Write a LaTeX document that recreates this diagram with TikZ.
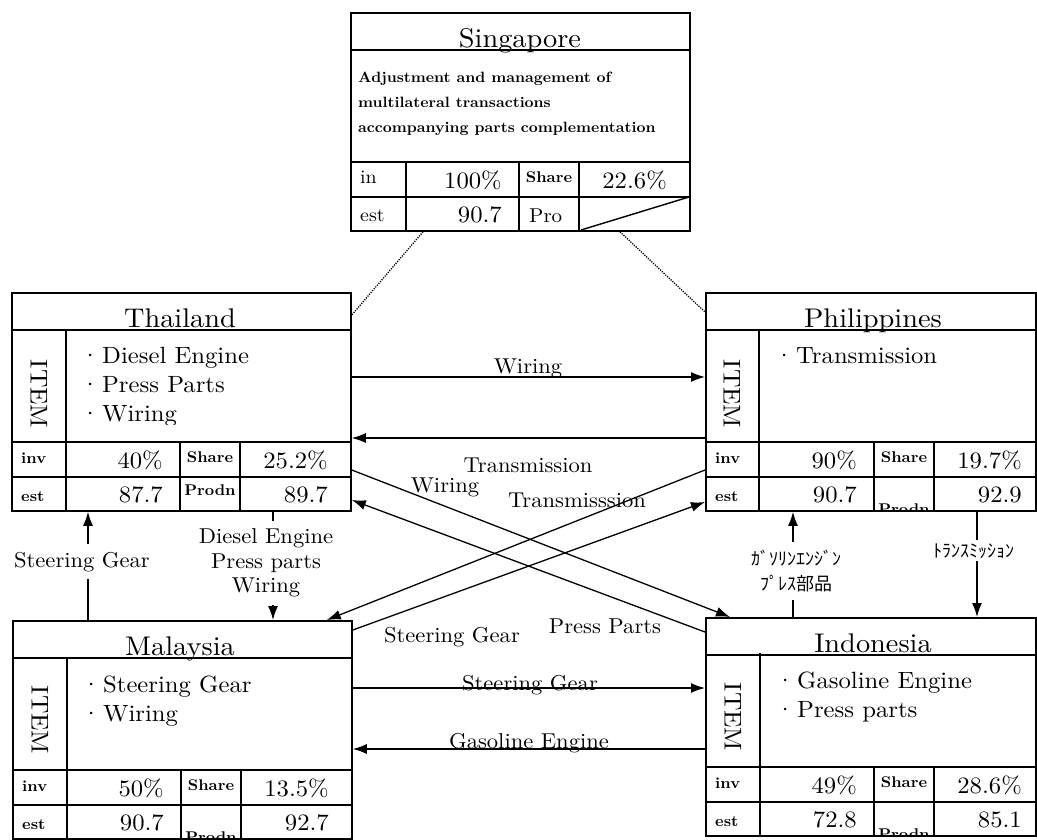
\documentclass[tikz,border=0pt]{standalone}
\usepackage{fontspec}
\setmainfont{lmroman10}[Extension=.otf, UprightFont=*-regular, BoldFont=*-bold, ItalicFont=*-italic, BoldItalicFont=*-bolditalic, FakeStretch=1.05]
\newfontfamily\jpfont{Noto Sans CJK JP}
\usetikzlibrary{arrows.meta,calc}
\tikzset{
 outerbox/.style={draw, line width=1.8pt, rectangle, inner sep=0pt, anchor=north west, minimum height=218pt},
 gridline/.style={line width=1.4pt},
 conn/.style={line width=1.3pt, -{Latex[length=14pt,width=10pt]}},
 dotconn/.style={line width=1.3pt, dash pattern=on 1.2pt off 1.2pt},
 titletext/.style={font=\fontsize{27}{31}\selectfont, anchor=base, inner sep=0pt},
 itemtext/.style={font=\fontsize{23.5}{27}\selectfont, anchor=base west, inner sep=0pt},
 valtext/.style={font=\fontsize{23.5}{26}\selectfont, anchor=base east, inner sep=0pt},
 smalltext/.style={font=\bfseries\fontsize{15.5}{18}\selectfont, inner sep=0pt},
 tablabel/.style={smalltext},
 desctext/.style={font=\bfseries\fontsize{14.9}{25}\selectfont, anchor=base west, inner sep=0pt},
 labtext/.style={font=\fontsize{21.5}{24.5}\selectfont, inner sep=0pt, anchor=base},
 jlabtext/.style={font=\jpfont\fontsize{18}{25}\selectfont, inner sep=0pt},
 itemlabel/.style={font=\fontsize{24.3}{28}\selectfont, rotate=-90, inner sep=0pt},
 whitebg/.style={fill=white, inner xsep=2pt, inner ysep=8pt},
}
% name, x0, y0, width
\newcommand\gridbox[4]{%
  \node[outerbox, minimum width=#4pt] (#1) at (#2,#3) {};
  \draw[gridline] (#2,#3+38) -- ++(#4,0);
  \draw[gridline] (#2,#3+150) -- ++(#4,0);
  \draw[gridline] (#2,#3+185) -- ++(#4,0);
  \draw[gridline] (#2+169,#3+150) -- ++(0,68);
  \draw[gridline] (#2+229,#3+150) -- ++(0,68);
}
% name, x0, y0, label1, v1, v2, v3, v4
\newcommand\tabvals[8]{%
  \node[tablabel, anchor=base west] (#1-l1) at (#2+10,#3+171) {#4};
  \node[valtext] (#1-v1) at (#2+152,#3+176) {#5};
  \node[smalltext, anchor=base] (#1-sh) at (#2+199,#3+170) {Share};
  \node[valtext] (#1-v2) at (#2+317,#3+176) {#6};
  \node[tablabel, anchor=base west] (#1-l2) at (#2+10,#3+209) {est};
  \node[valtext] (#1-v3) at (#2+152,#3+210) {#7};
  \node[valtext] (#1-v4) at (#2+317,#3+210) {#8};
}
% clipped Prodn at the bottom of the cell: name, x0, y0
\newcommand\lowprodn[3]{%
  \begin{scope}
    \clip (#2+169,#3+185) rectangle (#2+229,#3+217);
    \node[smalltext, anchor=base] (#1-pr) at (#2+199,#3+222) {Prodn};
  \end{scope}
}
\newcommand\bul{\makebox[12pt]{·}\hspace{6pt}}
\begin{document}
\begin{tikzpicture}[x=1pt,y=-1pt]
\useasboundingbox[fill=white] (0,0) rectangle (1037,839);

% ---------------- boxes
\gridbox{SG}{350}{12}{339}
\gridbox{TH}{11}{292}{339}
\gridbox{PH}{705}{292}{330}
\gridbox{MA}{12}{620}{339}
\gridbox{ID}{705}{617}{330}

% ITEM columns and Singapore extra lines
\draw[gridline] (66,330) -- (66,510);
\draw[gridline] (759,330) -- (759,510);
\draw[gridline] (67,658) -- (67,838);
\draw[gridline] (760,653) -- (760,835);
\draw[gridline] (406,162) -- (406,230);
\draw[gridline] (581,230) -- (689,197);

% titles
\node[titletext] (SG-t) at (520,47) {Singapore};
\node[titletext] (TH-t) at (180,327) {Thailand};
\node[titletext] (PH-t) at (873,327) {Philippines};
\node[titletext] (MA-t) at (180,655) {Malaysia};
\node[titletext] (ID-t) at (873,652) {Indonesia};

% Singapore description
\node[desctext] (SG-d1) at (358,82) {Adjustment and management of};
\node[desctext] (SG-d2) at (358,107) {multilateral transactions};
\node[desctext] (SG-d3) at (358,132) {accompanying parts complementation};

% ITEM labels
\node[itemlabel] (TH-i) at (39,394) {ITEM};
\node[itemlabel] (PH-i) at (732,394) {ITEM};
\node[itemlabel] (MA-i) at (40,720) {ITEM};
\node[itemlabel] (ID-i) at (733,717) {ITEM};

% items
\node[itemtext] (TH-a) at (84,363) {\bul Diesel Engine};
\node[itemtext] (TH-b) at (84,392) {\bul Press Parts};
\begin{scope}
  \clip (67,400) rectangle (349,424);
  \node[itemtext] (TH-c) at (84,421) {\bul Wiring};
\end{scope}
\node[itemtext] (PH-a) at (778,363) {\bul Transmission};
\node[itemtext] (MA-a) at (85,692) {\bul Steering Gear};
\node[itemtext] (MA-b) at (85,721) {\bul Wiring};
\node[itemtext] (ID-a) at (779,688) {\bul Gasoline Engine};
\node[itemtext] (ID-b) at (779,717) {\bul Press parts};

% tables
\begin{scope}[tablabel/.style={font=\fontsize{19}{22}\selectfont, inner sep=0pt}]
\tabvals{SG}{350}{12}{in}{100\%}{22.6\%}{90.7}{}
\end{scope}
\node[font=\fontsize{20}{24}\selectfont, anchor=base west, inner sep=0pt] (SG-pr) at (529,222) {Pro};
\tabvals{TH}{11}{292}{inv}{40\%}{25.2\%}{87.7}{89.7}
\node[smalltext, anchor=base] (TH-pr) at (210,495) {Prodn};
\tabvals{PH}{705}{292}{inv}{90\%}{19.7\%}{90.7}{92.9}
\lowprodn{PH}{705}{292}
\tabvals{MA}{12}{620}{inv}{50\%}{13.5\%}{90.7}{92.7}
\lowprodn{MA}{12}{620}
\tabvals{ID}{705}{617}{inv}{49\%}{28.6\%}{72.8}{85.1}
\lowprodn{ID}{705}{617}

% ---------------- dotted links to Singapore
\draw[dotconn] ([xshift=73pt]SG.south west) -- ([yshift=-23pt]TH.north east);
\draw[dotconn] ([xshift=270pt]SG.south west) -- ([yshift=-20pt]PH.north west);

% ---------------- connectors
\draw[conn] ([yshift=-85pt]TH.north east) -- ([yshift=-85pt]PH.north west);
\draw[conn] ([yshift=-146pt]PH.north west) -- ([yshift=-146pt]TH.north east);
\draw[conn] ([yshift=-178pt]TH.north east) -- ([xshift=25pt]ID.north west);
\draw[conn] ([yshift=-15pt]ID.north west) -- ([yshift=-208pt]TH.north east);
\draw[conn] ([yshift=-178pt]PH.north west) -- ([xshift=-26pt]MA.north east);
\draw[conn] ([yshift=-10pt]MA.north east) -- ([yshift=-210pt]PH.north west);
\draw[conn] ([yshift=-68pt]MA.north east) -- ([yshift=-71pt]ID.north west);
\draw[conn] ([yshift=-132pt]ID.north west) -- ([yshift=-129pt]MA.north east);
\draw[conn] ([xshift=76pt]MA.north west) -- ([xshift=77pt]TH.south west);
\draw[conn] ([xshift=262pt]TH.south west) -- ([xshift=261pt]MA.north west);
\draw[conn] ([xshift=88pt]ID.north west) -- ([xshift=88pt]PH.south west);
\draw[conn] ([xshift=272pt]PH.south west) -- ([xshift=272pt]ID.north west);

% ---------------- connector labels
\node[labtext] (L1) at (528,373) {Wiring};
\node[labtext] (L2) at (528,472) {Transmission};
\node[labtext] (L3) at (445,492) {Wiring};
\node[labtext] (L4) at (577,507) {Transmisssion};
\node[labtext] (L5) at (452,642) {Steering Gear};
\node[labtext] (L6) at (605,633) {Press Parts};
\node[labtext] (L7) at (530,690) {Steering Gear};
\node[labtext] (L8) at (529,748) {Gasoline Engine};
\node[labtext, whitebg] (L9) at (82,567) {Steering Gear};
\node[labtext, whitebg, anchor=center, align=center] (L10) at (266,563) {Diesel Engine\\Press parts\\Wiring};
\node[jlabtext, whitebg, align=center] (L11) at (796,571) {ｶﾞｿﾘﾝｴﾝｼﾞﾝ\\ﾌﾟﾚｽ部品};
\node[jlabtext, whitebg, inner ysep=3pt, anchor=base] (L12) at (974,557) {ﾄﾗﾝｽﾐｯｼｮﾝ};
\end{tikzpicture}
\end{document}
